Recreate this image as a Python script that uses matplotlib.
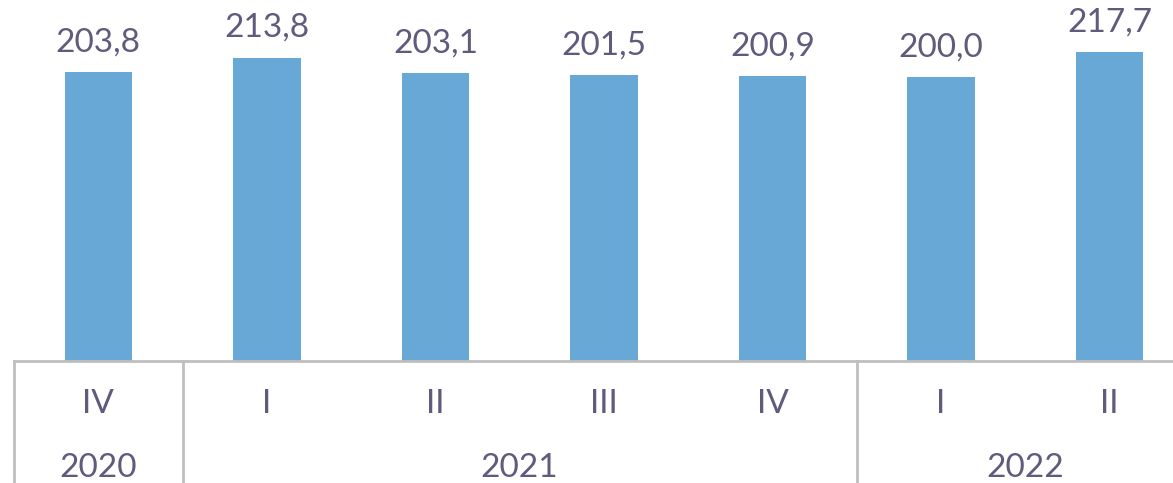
import numpy as np
import matplotlib.pyplot as plt
import matplotlib.transforms as mtransforms

quarters = ['IV', 'I', 'II', 'III', 'IV', 'I', 'II']
values = [203.8, 213.8, 203.1, 201.5, 200.9, 200.0, 217.7]
years = ['2020', '2021', '2022']
year_counts = [1, 4, 2]

bar_color = '#67A8D6'
text_color = '#5F5B7D'
line_color = '#BFBFBF'

plt.rcParams['font.family'] = ['Lato', 'DejaVu Sans']

fig = plt.figure(figsize=(11.73, 4.83), dpi=100)
ax = fig.add_axes([14 / 1173, 122 / 483, 1159 / 1173, 361 / 483])

x = np.arange(len(values))
ax.bar(x, values, width=0.4, color=bar_color)
ax.set_xlim(-0.5, 6.376)
ax.set_ylim(0, 254.6)

for xi, v in zip(x, values):
    ax.annotate(f'{v:.1f}'.replace('.', ','), (xi, v), xytext=(0, 15),
                textcoords='offset points', ha='center', va='baseline',
                fontsize=24, color=text_color)

for s in ['top', 'right', 'left']:
    ax.spines[s].set_visible(False)
ax.spines['bottom'].set_color(line_color)
ax.spines['bottom'].set_linewidth(2)
ax.set_yticks([])
ax.set_xticks(x)
ax.set_xticklabels(quarters, fontsize=24, color=text_color)
ax.tick_params(axis='x', length=0, pad=20)

trans = mtransforms.blended_transform_factory(ax.transData, ax.transAxes)
start = -0.5
ax.plot([start, start], [0, -0.34], transform=trans, color=line_color,
        lw=2, clip_on=False)
for yr, n in zip(years, year_counts):
    end = start + n
    mid = (start + min(end, 6.376 + 0.5)) / 2
    ax.text(mid, -0.297, yr, transform=trans, ha='center', va='center',
            fontsize=24, color=text_color)
    if end < 6.376:
        ax.plot([end, end], [0, -0.34], transform=trans, color=line_color,
                lw=2, clip_on=False)
    start = end

plt.savefig('out.png', dpi=100)
